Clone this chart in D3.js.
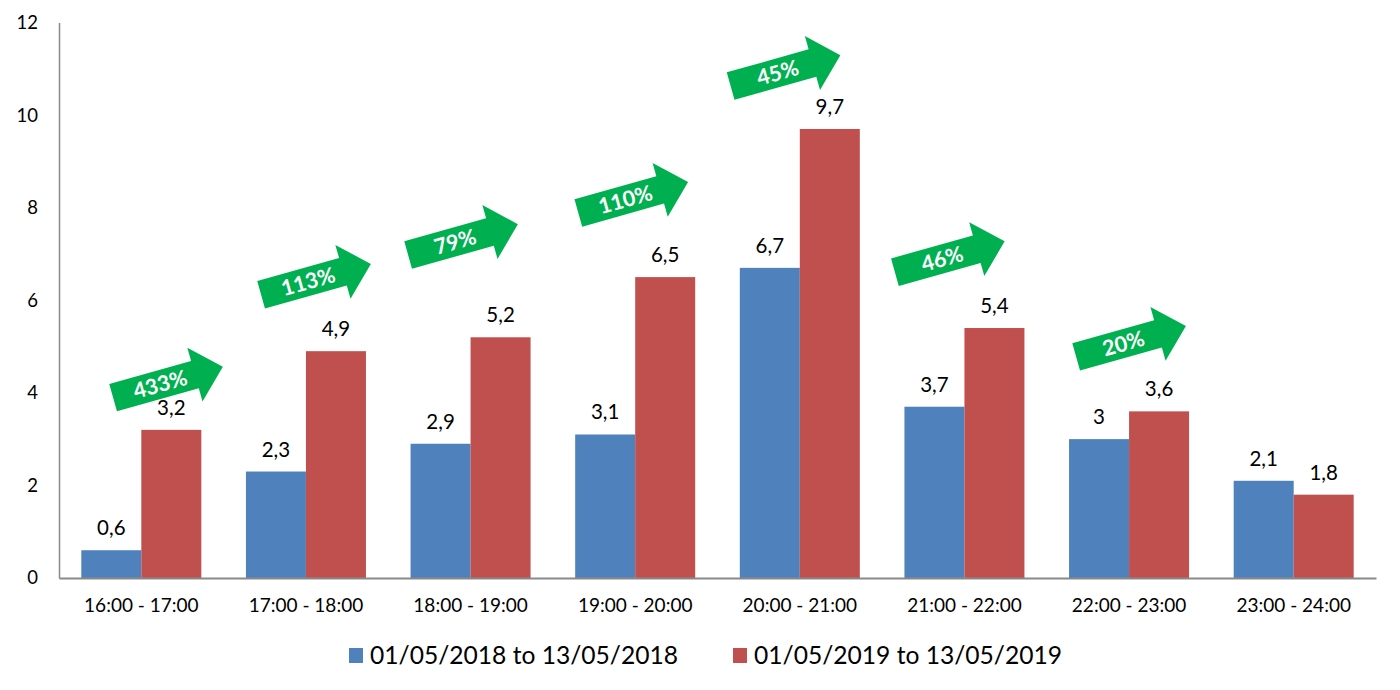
<!DOCTYPE html>
<html>
<head>
<meta charset="utf-8">
<script src="https://cdn.jsdelivr.net/npm/d3@7"></script>
<style>
  html, body { margin: 0; padding: 0; background: #fff; }
  svg { display: block; font-family: Lato, "Open Sans", sans-serif; }
</style>
</head>
<body>
<svg id="chart" width="1400" height="690"></svg>
<script>
// ---- data ----
const categories = ["16:00 - 17:00", "17:00 - 18:00", "18:00 - 19:00", "19:00 - 20:00",
                    "20:00 - 21:00", "21:00 - 22:00", "22:00 - 23:00", "23:00 - 24:00"];
const seriesNames = ["01/05/2018 to 13/05/2018", "01/05/2019 to 13/05/2019"];
const values2018 = [0.6, 2.3, 2.9, 3.1, 6.7, 3.7, 3.0, 2.1];
const values2019 = [3.2, 4.9, 5.2, 6.5, 9.7, 5.4, 3.6, 1.8];
const yTicks = [0, 2, 4, 6, 8, 10, 12];
// growth arrows: label, category index, horizontal offset (fraction of band step), y value of arrow centre
const arrowLabels = ["433%", "113%", "79%", "110%", "45%", "46%", "20%"];
const arrowCategory = [0, 1, 2, 3, 4, 5, 6];
const arrowOffset = [0.162, 0.061, -0.046, -0.012, -0.087, -0.089, 0.012];
const arrowY = [4.23, 6.45, 7.31, 8.22, 10.96, 6.94, 5.11];

// ---- layout ----
const colors = ["#4F81BD", "#C0504D"];
const green = "#00B050";
const axisColor = "#898989";
const svg = d3.select("#chart");

const x0 = d3.scaleBand().domain(categories).range([59, 1376]).paddingInner(0.271).paddingOuter(0.1355);
const x1 = d3.scaleBand().domain([0, 1]).range([0, x0.bandwidth()]);
const y = d3.scaleLinear().domain([0, 12]).range([578, 22.5]);

const fmt = v => String(v).replace(".", ",");

// bars
const groups = svg.append("g").selectAll("g")
  .data(categories)
  .join("g")
  .attr("transform", d => `translate(${x0(d)},0)`);

groups.selectAll("rect")
  .data((d, i) => [values2018[i], values2019[i]])
  .join("rect")
  .attr("x", (d, j) => x1(j))
  .attr("width", x1.bandwidth())
  .attr("y", d => y(d))
  .attr("height", d => y(0) - y(d))
  .attr("fill", (d, j) => colors[j]);

groups.selectAll("text")
  .data((d, i) => [values2018[i], values2019[i]])
  .join("text")
  .attr("x", (d, j) => x1(j) + x1.bandwidth() / 2)
  .attr("y", d => y(d) - 15)
  .attr("text-anchor", "middle")
  .attr("font-size", 20.5)
  .attr("fill", "#000")
  .text(d => fmt(d));

// axes
const yAxis = d3.axisLeft(y).tickValues(yTicks).tickSize(0).tickPadding(21).tickFormat(d => d);
const gy = svg.append("g").attr("transform", "translate(59,0)").call(yAxis);
gy.select(".domain").attr("stroke", axisColor).attr("stroke-width", 1.5);
gy.selectAll("text").attr("font-size", 18.5).attr("fill", "#000").attr("font-family", "Lato");

const xAxis = d3.axisBottom(x0).tickSize(0).tickPadding(21);
const gx = svg.append("g").attr("transform", `translate(0,${y(0)})`).call(xAxis);
gx.select(".domain").attr("stroke", axisColor).attr("stroke-width", 2);
gx.selectAll("text").attr("font-size", 19).attr("fill", "#000").attr("font-family", "Lato");

// arrows
const L = 114, bodyH = 28.5, headH = 56, headLen = 29;
const arrowPath = d3.path();
arrowPath.moveTo(-L / 2, -bodyH / 2);
arrowPath.lineTo(L / 2 - headLen, -bodyH / 2);
arrowPath.lineTo(L / 2 - headLen, -headH / 2);
arrowPath.lineTo(L / 2, 0);
arrowPath.lineTo(L / 2 - headLen, headH / 2);
arrowPath.lineTo(L / 2 - headLen, bodyH / 2);
arrowPath.lineTo(-L / 2, bodyH / 2);
arrowPath.closePath();

const arrows = svg.append("g").selectAll("g")
  .data(arrowLabels)
  .join("g")
  .attr("transform", (d, i) => {
    const cx = x0(categories[arrowCategory[i]]) + x0.bandwidth() / 2 + arrowOffset[i] * x0.step();
    const cy = y(arrowY[i]);
    return `translate(${cx},${cy}) rotate(-15.7)`;
  });
arrows.append("path").attr("d", arrowPath.toString()).attr("fill", green);
arrows.append("text")
  .attr("x", -8)
  .attr("y", 7.5)
  .attr("text-anchor", "middle")
  .attr("font-size", 21.5)
  .attr("font-weight", "bold")
  .attr("fill", "#fff")
  .text(d => d);

// legend
const legendX = [349, 733];
const legend = svg.append("g").selectAll("g")
  .data(seriesNames)
  .join("g")
  .attr("transform", (d, i) => `translate(${legendX[i]},648)`);
legend.append("rect").attr("width", 14).attr("height", 15).attr("fill", (d, i) => colors[i]);
legend.append("text")
  .attr("x", 21)
  .attr("y", 16)
  .attr("font-size", 24.6)
  .attr("fill", "#000")
  .text(d => d);
</script>
</body>
</html>
